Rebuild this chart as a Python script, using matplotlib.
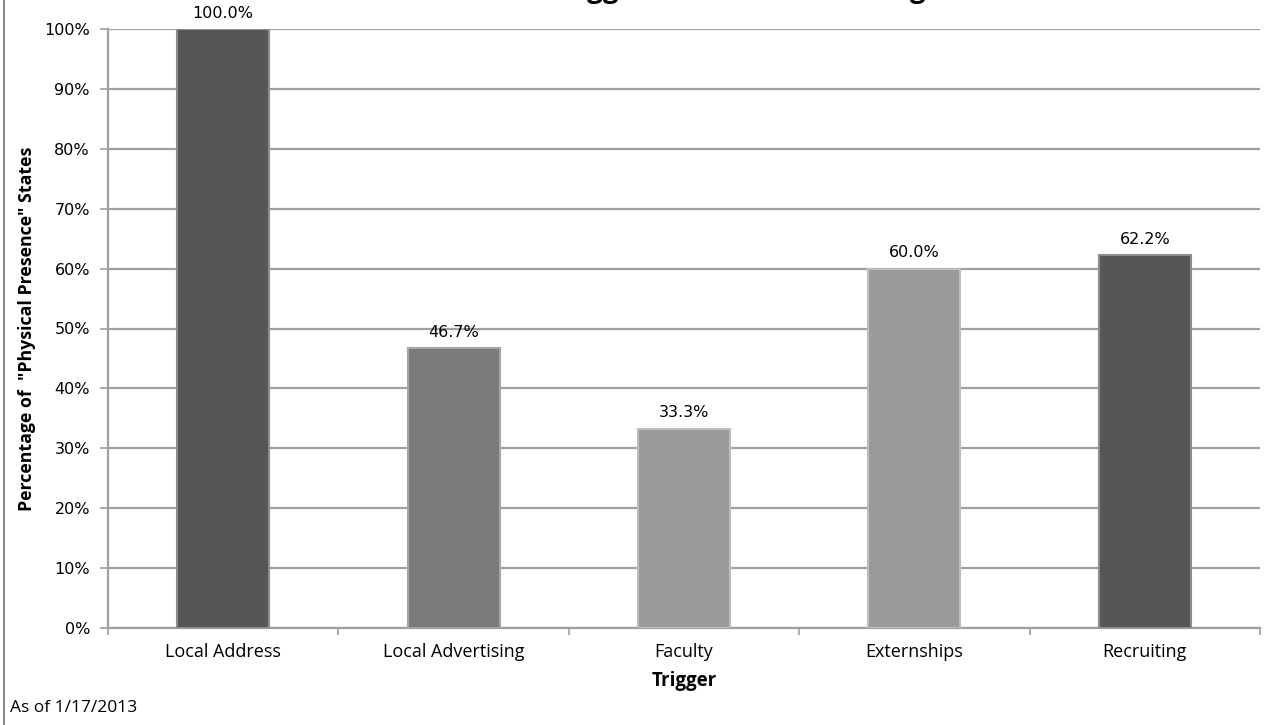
import matplotlib.pyplot as plt
from matplotlib.lines import Line2D
from matplotlib.ticker import PercentFormatter

# data
triggers = ['Local Address', 'Local Advertising', 'Faculty', 'Externships', 'Recruiting']
pct_states = [100.0, 46.7, 33.3, 60.0, 62.2]
bar_colors = ['#565656', '#7b7b7b', '#9a9a9a', '#9a9a9a', '#565656']
edge_colors = ['#8c8c8c', '#a5a5a5', '#bdbdbd', '#bdbdbd', '#8c8c8c']
y_ticks = [0, 10, 20, 30, 40, 50, 60, 70, 80, 90, 100]

fig = plt.figure(figsize=(12.69, 7.25), dpi=100)
ax = fig.add_axes([108 / 1269, 1 - 628 / 725, 1152 / 1269, 599 / 725])

x = list(range(len(triggers)))
bars = ax.bar(x, pct_states, width=0.4, color=bar_colors,
              edgecolor=edge_colors, linewidth=1.5, zorder=3)

for b, v in zip(bars, pct_states):
    ax.annotate(f'{v:.1f}%', (b.get_x() + b.get_width() / 2, v),
                xytext=(0, 6), textcoords='offset points',
                ha='center', va='bottom', fontsize=11.5, family='DejaVu Sans')

ax.set_xlim(-0.5, len(triggers) - 0.5)
ax.set_ylim(0, 100)
ax.set_yticks(y_ticks)
ax.yaxis.set_major_formatter(PercentFormatter(decimals=0))
ax.grid(axis='y', color='#a0a0a0', linewidth=1.6, zorder=0)

ax.set_xticks(x)
ax.set_xticklabels(triggers, family='Open Sans', fontsize=13)
ax.set_xticks([i - 0.5 for i in range(len(triggers) + 1)], minor=True)
ax.tick_params(axis='x', which='major', length=0, pad=11)
ax.tick_params(axis='x', which='minor', length=5, width=1.2, color='#a0a0a0')
ax.tick_params(axis='y', length=6, width=1.2, color='#a0a0a0', labelsize=11.5, pad=7)
for lab in ax.get_yticklabels():
    lab.set_family('DejaVu Sans')

for side in ['top', 'right']:
    ax.spines[side].set_visible(False)
for side in ['left', 'bottom']:
    ax.spines[side].set_color('#a0a0a0')
    ax.spines[side].set_linewidth(1.6)

ax.set_xlabel('Trigger', fontsize=13.5, fontweight='bold', family='Open Sans', labelpad=7)
ax.set_ylabel('Percentage of  "Physical Presence" States', fontsize=12.8,
              fontweight='bold', family='Open Sans', labelpad=6)

# title runs off the top of the reference image, only descenders show
fig.text(0.5, 1 + 3 / 725, 'Most Common Triggers for State Licensing',
         ha='center', va='baseline', fontsize=20, fontweight='bold', family='Open Sans')

fig.text(10 / 1269, 1 - 708 / 725, 'As of 1/17/2013', fontsize=12.5,
         family='Open Sans', va='center')

fig.add_artist(Line2D([4 / 1269, 4 / 1269], [0, 1], color='#8a8a8a', linewidth=1.5))

fig.savefig('out.png', dpi=100)
